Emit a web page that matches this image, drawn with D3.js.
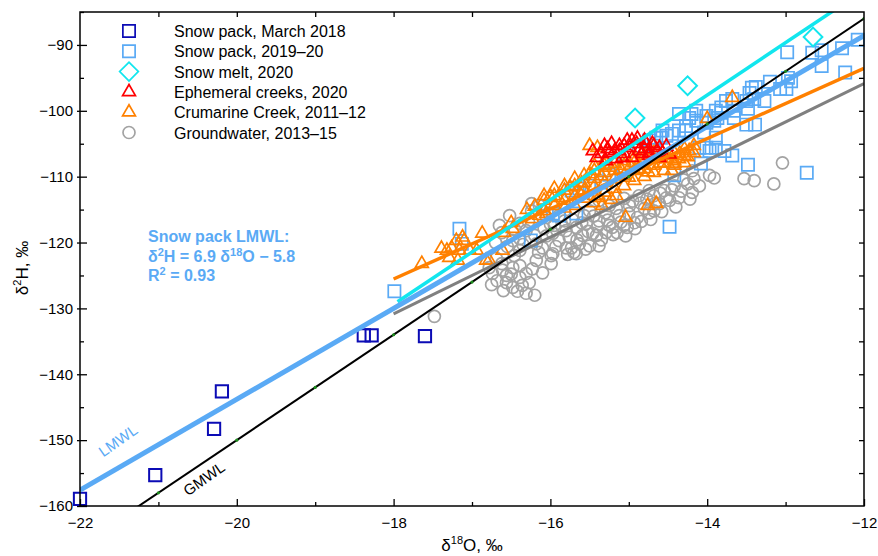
<!DOCTYPE html>
<html>
<head>
<meta charset="utf-8">
<script src="https://cdn.jsdelivr.net/npm/d3@7"></script>
<style>
body { margin: 0; background: #fff; }
text { font-family: Arial, "Liberation Sans", sans-serif; }
</style>
</head>
<body>
<div id="chart"></div>
<script>
// values: [d18O, d2H]
var snowpack2018 = [[-22.0,-158.9],[-21.04,-155.3],[-20.29,-148.3],[-20.19,-142.6],[-18.38,-134.1],[-18.28,-134.1],[-17.6,-134.2]];

var snowpack1920 = [[-17.99,-127.4],[-17.16,-117.9],[-17.13,-120.2],[-14.48,-117.6],[-12.73,-109.4],[-16.25,-119.7],[-15.97,-115.6],[-15.89,-115.9],[-15.67,-115.6],[-15.73,-112.1],[-15.63,-111.8],[-15.35,-110.9],
  [-14.87,-105.3],[-14.74,-104.5],[-14.65,-104.1],[-14.59,-104.1],[-14.52,-103.8],[-14.45,-103.5],[-14.36,-103.0],[-14.27,-102.3],[-14.27,-103.0],[-14.36,-100.5],[-14.20,-100.5],[-14.14,-100.0],[-14.14,-101.5],[-14.01,-100.8],[-14.01,-101.8],[-13.89,-100.0],[-13.87,-101.1],[-13.82,-99.5],[-13.82,-100.3],[-13.76,-98.5],[-13.68,-98.2],[-13.66,-100.0],[-13.66,-101.1],[-13.50,-98.5],[-13.48,-99.7],[-13.50,-102.1],[-13.39,-102.1],[-13.46,-97.3],[-13.43,-96.5],[-13.38,-96.4],[-13.40,-98.2],[-13.27,-98.5],[-13.20,-95.6],[-13.07,-96.7],[-12.99,-96.7],[-12.97,-95.0],[-12.93,-95.5],[-12.98,-91.1],[-12.66,-91.2],[-12.54,-90.8],[-12.54,-93.2],[-12.28,-90.5],[-12.24,-94.2],[-12.08,-89.2],
  [-14.10,-105.6],[-14.01,-105.6],[-13.97,-106.1],[-13.89,-105.6],[-13.78,-106.1],[-13.68,-106.8],[-13.48,-108.2],[-14.08,-108.0],[-14.04,-103.3],[-13.91,-101.5],[-13.89,-104.1],[-14.42,-109.8],[-14.23,-101.1],[-14.68,-105.3],[-14.57,-103.0],[-15.50,-111.4],[-15.25,-109.7],[-15.06,-108.4]];

var snowmelt = [[-14.92,-101.1],[-14.25,-96.2],[-12.65,-88.8]];

var ephemeral = [[-15.46,-106.1],[-15.41,-107.1],[-15.35,-106.5],[-15.29,-107.6],[-15.27,-105.8],[-15.25,-106.4],[-15.22,-105.0],[-15.16,-107.3],[-15.12,-105.3],[-15.12,-106.1],[-15.08,-107.1],[-15.06,-106.5],[-15.02,-104.5],[-14.99,-105.6],[-14.96,-104.5],[-14.96,-107.1],[-14.90,-105.0],[-14.89,-104.2],[-14.87,-106.1],[-14.83,-106.5],[-14.80,-105.8],[-14.78,-105.0],[-14.74,-106.4],[-14.74,-106.8],[-14.70,-105.0],[-14.68,-105.3],[-14.64,-106.1],[-14.61,-105.6],[-14.61,-107.1],[-14.57,-106.4],[-15.18,-106.1],[-15.31,-105.3],[-15.06,-105.3],[-14.80,-104.5],[-14.52,-105.4],[-14.48,-106.6]];

var crumarine = [[-17.64,-123.2],[-17.39,-120.9],[-17.32,-121.2],[-17.26,-120.8],[-17.20,-119.7],[-17.12,-119.2],[-17.10,-119.7],[-17.16,-121.2],[-17.03,-121.2],[-17.29,-122.3],[-17.18,-122.7],[-16.87,-118.6],[-16.78,-122.7],[-16.59,-118.5],[-16.50,-117.0],[-16.48,-117.9],[-16.23,-116.4],[-16.14,-115.9],[-16.05,-115.6],[-16.82,-122.7],[-16.61,-121.2],[-16.94,-121.2],
  [-15.50,-105.3],[-15.40,-105.6],
  [-15.04,-116.2],[-14.76,-114.4],[-14.65,-114.1],[-15.34,-114.4],[-13.68,-98.0],[-14.00,-101.2],[-14.45,-109.1],[-15.38,-113.2],[-15.16,-112.9],[-14.23,-106.1],[-14.36,-107.3],[-14.42,-108.0],
  [-16.08,-113.6],[-16.08,-115.2],[-16.08,-112.9],[-15.95,-112.9],[-15.95,-114.4],[-15.95,-111.8],
  [-15.82,-112.1],[-15.82,-113.6],[-15.82,-111.4],[-15.82,-114.8],[-15.69,-111.4],[-15.69,-112.9],[-15.69,-110.3],[-15.69,-114.4],
  [-15.57,-110.9],[-15.57,-112.1],[-15.57,-109.8],[-15.57,-113.3],[-15.44,-110.3],[-15.44,-111.5],[-15.44,-109.1],[-15.44,-112.9],[-15.44,-108.3],
  [-15.31,-109.4],[-15.31,-110.9],[-15.31,-108.3],[-15.31,-112.4],[-15.31,-107.6],[-15.18,-109.1],[-15.18,-110.3],[-15.18,-108.0],[-15.18,-111.8],
  [-15.06,-108.3],[-15.06,-109.8],[-15.06,-107.6],[-15.06,-111.4],[-14.93,-107.9],[-14.93,-109.1],[-14.93,-107.1],[-14.93,-110.6],
  [-14.80,-107.6],[-14.80,-108.8],[-14.80,-106.8],[-14.80,-110.0],[-14.68,-107.3],[-14.68,-108.3],[-14.68,-106.4],[-14.68,-109.4],
  [-14.55,-106.8],[-14.55,-107.9],[-14.55,-109.1],[-14.42,-106.4],[-14.42,-107.6],[-14.42,-108.3],[-14.29,-105.8],[-14.29,-106.8],[-14.29,-107.9],
  [-14.17,-105.3],[-14.17,-106.4],
  [-15.90,-113.2],[-15.75,-111.6],[-15.60,-111.0],[-15.50,-109.6],[-15.35,-109.9],[-15.25,-108.6],[-15.10,-108.9],[-14.98,-108.4],[-14.85,-107.4],[-14.75,-109.3],[-14.60,-108.0],[-14.50,-107.3],[-14.35,-106.5],[-14.25,-107.0],[-16.20,-114.5],[-16.30,-115.0],[-16.00,-113.0],[-15.45,-114.0],[-15.22,-113.5],[-15.62,-112.6],[-15.00,-110.1],[-14.88,-108.9]];

var groundwater = [[-16.78,-123.8],[-16.74,-124.7],[-16.68,-125.8],[-16.62,-123.2],[-16.61,-124.2],[-16.56,-126.1],[-16.48,-123.8],[-16.48,-126.8],[-16.39,-125.3],[-16.36,-126.5],[-16.31,-124.7],[-16.31,-127.7],[-16.27,-126.1],[-16.18,-122.7],[-16.39,-123.5],[-16.56,-125.0],[-16.69,-122.4],[-15.99,-123.2],[-15.99,-122.0],
  [-16.65,-117.4],[-16.62,-118.5],[-16.48,-119.7],[-16.39,-117.1],[-16.31,-118.2],[-16.24,-115.2],[-16.24,-114.1],[-16.14,-114.4],[-16.11,-115.9],[-16.18,-120.2],[-16.05,-116.2],[-15.97,-118.6],[-15.97,-121.7],[-15.89,-119.7],[-15.80,-118.2],[-15.80,-120.8],[-15.73,-120.8],[-15.67,-117.7],[-15.67,-121.7],[-15.63,-120.2],[-15.59,-118.9],[-15.54,-117.1],[-15.46,-118.6],[-15.41,-118.9],[-15.38,-116.7],[-15.38,-120.5],[-15.29,-118.5],[-15.25,-117.4],[-15.21,-117.7],[-15.15,-118.5],[-15.12,-115.9],[-15.06,-117.4],[-15.02,-117.7],[-14.99,-114.4],[-14.89,-116.2],[-14.87,-112.9],[-14.80,-114.8],[-14.74,-115.5],[-14.68,-112.9],[-14.61,-114.1],[-14.55,-112.1],[-14.48,-113.6],[-14.42,-111.4],[-14.36,-113.2],[-14.25,-111.1],[-14.19,-112.4],[-14.19,-109.1],[-14.17,-110.3],[-14.10,-111.4],[-13.97,-109.8],[-13.91,-110.2],[-13.53,-110.3],[-13.40,-110.6],[-13.15,-111.1],[-13.04,-107.9],[-17.48,-131.2],
  [-16.39,-121.2],[-16.08,-117.9],[-15.50,-115.2],[-15.25,-114.4],[-15.89,-115.9],[-16.46,-122.0],[-15.82,-116.7],[-15.57,-115.9],[-15.38,-113.6],[-15.06,-113.3],[-14.74,-112.1],[-16.52,-115.9],[-16.39,-119.4],[-16.10,-120.8],[-15.95,-117.4],[-15.50,-120.5],[-15.76,-119.2],[-14.93,-117.0],[-14.68,-115.2],[-15.70,-121.5],
  [-16.28,-116.8],[-16.20,-118.9],[-16.15,-121.5],[-16.05,-119.0],[-16.00,-117.2],[-15.93,-120.6],[-15.85,-117.6],[-15.78,-121.8],[-15.72,-116.5],[-15.66,-119.6],[-15.60,-117.0],[-15.55,-121.0],[-15.52,-118.3],[-15.45,-116.0],[-15.40,-117.6],[-15.35,-119.6],[-15.30,-115.5],[-15.27,-116.6],[-15.20,-118.8],[-15.16,-114.8],[-15.10,-116.9],[-15.04,-119.0],[-15.00,-115.6],[-14.95,-113.7],[-14.92,-117.9],[-14.85,-114.0],[-14.84,-116.8],[-14.77,-113.4],[-14.72,-116.5],[-14.66,-114.0],[-14.60,-112.5],[-14.58,-115.3],[-14.52,-113.2],[-14.45,-112.0],[-14.40,-114.6],[-14.33,-112.2],[-14.30,-110.5],[-14.22,-113.4],[-16.35,-120.3],[-16.45,-118.1],[-16.55,-120.6],[-16.70,-120.0],[-16.50,-124.8],[-16.42,-127.4],[-16.23,-124.0],[-16.10,-124.6],[-16.60,-127.3],[-16.75,-126.4],[-16.20,-128.0]];

// regression / water lines: d2H = slope * d18O + intercept
var lineNames = ["crumarine", "groundwater", "snowmelt", "lmwl", "gmwl"];
var lineSlopes = [5.33, 5.83, 7.95, 6.9, 8];
var lineIntercepts = [-29.6, -25.9, 13.7, -5.8, 10];
var lineStarts = [-18, -18, -17.95, -22, -22];
var lineEnds = [-12, -12, -12, -12, -12];

var legendLabels = ["Snow pack, March 2018", "Snow pack, 2019\u201320", "Snow melt, 2020", "Ephemeral creeks, 2020", "Crumarine Creek, 2011\u201312", "Groundwater, 2013\u201315"];

var width = 878, height = 556;
var margin = {top: 12, right: 14, bottom: 50, left: 80};

var svg = d3.select("#chart").append("svg")
    .attr("width", width)
    .attr("height", height);

var x = d3.scaleLinear().domain([-22, -12]).range([margin.left, width - margin.right]);
var y = d3.scaleLinear().domain([-160, -85]).range([height - margin.bottom, margin.top]);

svg.append("clipPath").attr("id", "plotclip")
  .append("rect")
    .attr("x", x(-22)).attr("y", y(-85))
    .attr("width", x(-12) - x(-22)).attr("height", y(-160) - y(-85));

var colors = {
  dark: "#0b0bb5",
  light: "#5aaaf5",
  cyan: "#12e6ee",
  red: "#ff0000",
  orange: "#ff8000",
  gray: "#a3a3a3",
  grayLine: "#808080"
};

function symPath(type) {
  if (type == "square") return d3.symbol(d3.symbolSquare, 150)();
  if (type == "diamond") return d3.symbol(d3.symbolSquare, 175)();
  if (type == "triangle") return d3.symbol(d3.symbolTriangle, 72)();
  return d3.symbol(d3.symbolCircle, 113)();
}

function drawPoints(data, type, color, sw) {
  svg.append("g")
    .selectAll("path")
    .data(data)
    .enter()
    .append("path")
      .attr("d", symPath(type))
      .attr("transform", function(d) {
        return "translate(" + x(d[0]) + "," + y(d[1]) + ")" + (type == "diamond" ? " rotate(45)" : "");
      })
      .attr("fill", "none")
      .attr("stroke", color)
      .attr("stroke-width", sw || 1.7);
}

drawPoints(groundwater, "circle", colors.gray);
drawPoints(snowpack1920, "square", colors.light);
drawPoints(crumarine, "triangle", colors.orange);
drawPoints(ephemeral, "triangle", colors.red);
drawPoints(snowpack2018, "square", colors.dark, 2);
drawPoints(snowmelt, "diamond", colors.cyan, 2);

// lines
var lineColors = [colors.orange, colors.grayLine, colors.cyan, colors.light, "#000"];
var lineWidths = [3.5, 3, 3.5, 5, 2];
var lg = svg.append("g").attr("clip-path", "url(#plotclip)");
lineNames.forEach(function(name, i) {
  var x0 = lineStarts[i], x1 = lineEnds[i];
  lg.append("line")
    .attr("x1", x(x0)).attr("y1", y(lineSlopes[i] * x0 + lineIntercepts[i]))
    .attr("x2", x(x1)).attr("y2", y(lineSlopes[i] * x1 + lineIntercepts[i]))
    .attr("stroke", lineColors[i])
    .attr("stroke-width", lineWidths[i]);
});

// small green dots on the GMWL at whole-number d18O
var gmwlDots = d3.range(-21, -11, 1);
lg.selectAll(".gdot")
  .data(gmwlDots)
  .enter()
  .append("circle")
    .attr("cx", function(d) { return x(d); })
    .attr("cy", function(d) { return y(8 * d + 10); })
    .attr("r", 1.6)
    .attr("fill", "#1c8c1c");

// axes
function styleAxis(g, showText) {
  g.select(".domain").remove();
  g.selectAll("line").attr("stroke", "#000").attr("stroke-width", 1.3);
  g.selectAll("text").attr("font-size", "15px").attr("fill", "#000")
    .style("font-family", "Arial, 'Liberation Sans', sans-serif");
  if (!showText) g.selectAll("text").remove();
}

var xMajor = d3.range(-22, -11, 2);
var xMinor = d3.range(-21, -12, 2);
var yMajor = d3.range(-160, -89, 10);
var yMinor = d3.range(-155, -84, 10);

svg.append("g").attr("transform", "translate(0," + y(-160) + ")")
  .call(d3.axisBottom(x).tickValues(xMajor).tickSize(-7).tickPadding(11))
  .call(styleAxis, true);
svg.append("g").attr("transform", "translate(0," + y(-160) + ")")
  .call(d3.axisBottom(x).tickValues(xMinor).tickSize(-4))
  .call(styleAxis, false);
svg.append("g").attr("transform", "translate(0," + y(-85) + ")")
  .call(d3.axisTop(x).tickValues(d3.range(-21, -12, 1)).tickSize(-5))
  .call(styleAxis, false);
svg.append("g").attr("transform", "translate(" + x(-22) + ",0)")
  .call(d3.axisLeft(y).tickValues(yMajor).tickSize(3).tickPadding(4))
  .call(styleAxis, true);
svg.append("g").attr("transform", "translate(" + x(-22) + ",0)")
  .call(d3.axisLeft(y).tickValues(yMajor).tickSize(-7))
  .call(styleAxis, false);
svg.append("g").attr("transform", "translate(" + x(-22) + ",0)")
  .call(d3.axisLeft(y).tickValues(yMinor).tickSize(-4))
  .call(styleAxis, false);
svg.append("g").attr("transform", "translate(" + x(-12) + ",0)")
  .call(d3.axisRight(y).tickValues(d3.range(-155, -85, 5)).tickSize(-5))
  .call(styleAxis, false);

// frame
svg.append("rect")
  .attr("x", x(-22)).attr("y", y(-85))
  .attr("width", x(-12) - x(-22)).attr("height", y(-160) - y(-85))
  .attr("fill", "none").attr("stroke", "#000").attr("stroke-width", 1.5);

// axis titles
var xt = svg.append("text")
  .attr("x", 472).attr("y", 551)
  .attr("text-anchor", "middle")
  .attr("font-size", "17px");
xt.append("tspan").text("\u03b4");
xt.append("tspan").attr("dy", -7).attr("font-size", "11px").text("18");
xt.append("tspan").attr("dy", 7).text("O, \u2030");

var yt = svg.append("text")
  .attr("transform", "translate(28,268) rotate(-90)")
  .attr("text-anchor", "middle")
  .attr("font-size", "17px");
yt.append("tspan").text("\u03b4");
yt.append("tspan").attr("dy", -7).attr("font-size", "11px").text("2");
yt.append("tspan").attr("dy", 7).text("H, \u2030");

// line labels
svg.append("text")
  .attr("transform", "translate(121,445) rotate(-35)")
  .attr("text-anchor", "middle")
  .attr("font-size", "15px")
  .attr("fill", colors.light)
  .text("LMWL");
svg.append("text")
  .attr("transform", "translate(207,483) rotate(-35)")
  .attr("text-anchor", "middle")
  .attr("font-size", "15px")
  .attr("fill", "#000")
  .text("GMWL");

// regression note
var note = svg.append("g").attr("fill", colors.light).attr("font-weight", "bold").attr("font-size", "16px");
note.append("text").attr("x", 148).attr("y", 242).text("Snow pack  LMWL:");
var n2 = note.append("text").attr("x", 148).attr("y", 262);
n2.append("tspan").text("\u03b4");
n2.append("tspan").attr("dy", -6).attr("font-size", "11px").text("2");
n2.append("tspan").attr("dy", 6).text("H = 6.9 \u03b4");
n2.append("tspan").attr("dy", -6).attr("font-size", "11px").text("18");
n2.append("tspan").attr("dy", 6).text("O \u2212 5.8");
var n3 = note.append("text").attr("x", 148).attr("y", 281);
n3.append("tspan").text("R");
n3.append("tspan").attr("dy", -6).attr("font-size", "11px").text("2");
n3.append("tspan").attr("dy", 6).text(" = 0.93");

// legend
var legendTypes = ["square", "square", "diamond", "triangle", "triangle", "circle"];
var legendColors = [colors.dark, colors.light, colors.cyan, colors.red, colors.orange, colors.gray];
var legend = svg.append("g");
legendLabels.forEach(function(lab, i) {
  var yy = 31 + i * 20.3;
  legend.append("path")
    .attr("d", symPath(legendTypes[i]))
    .attr("transform", "translate(129," + yy + ")" + (legendTypes[i] == "diamond" ? " rotate(45)" : ""))
    .attr("fill", "none")
    .attr("stroke", legendColors[i])
    .attr("stroke-width", 1.7);
  legend.append("text")
    .attr("x", 174).attr("y", yy + 6)
    .attr("font-size", "16px")
    .text(lab);
});
</script>
</body>
</html>
